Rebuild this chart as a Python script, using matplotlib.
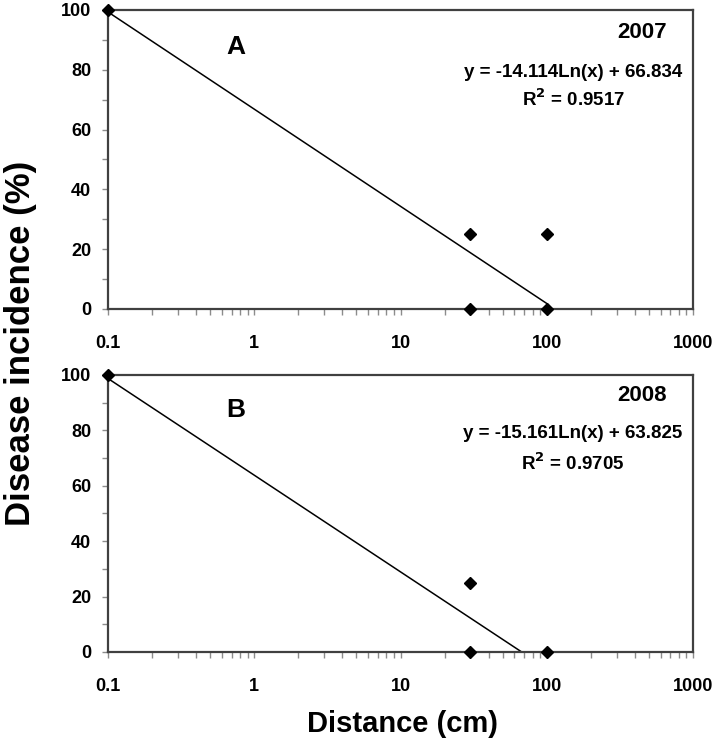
import numpy as np
import matplotlib
matplotlib.use('Agg')
import matplotlib.pyplot as plt
from matplotlib.ticker import LogLocator, FixedLocator, NullFormatter

plt.rcParams['font.family'] = ['Liberation Sans', 'DejaVu Sans']
plt.rcParams['font.weight'] = 'bold'

# %% data
dist_a = [0.1, 30, 30, 100, 100]
inc_a = [100, 25, 0, 25, 0]
dist_b = [0.1, 30, 30, 100]
inc_b = [100, 25, 0, 0]

# log trendline coefficients (y = slope*ln(x) + intercept)
slope_a, icpt_a, r2_a = -14.114, 66.834, 0.9517
slope_b, icpt_b, r2_b = -15.161, 63.825, 0.9705

years = ['2007', '2008']
panels = ['A', 'B']

# %% figure
fig = plt.figure(figsize=(7.17, 7.44), dpi=100)
ax_a = fig.add_axes([0.1506, 0.5847, 0.816, 0.4019])
ax_b = fig.add_axes([0.1506, 0.1237, 0.816, 0.3723])

frame = '#404040'
tick_col = '#8c8c8c'

for ax, xs, ys, slope, icpt, r2, year, letter in [
        (ax_a, dist_a, inc_a, slope_a, icpt_a, r2_a, years[0], panels[0]),
        (ax_b, dist_b, inc_b, slope_b, icpt_b, r2_b, years[1], panels[1])]:
    # excel style trendline over the data range
    xt = np.geomspace(min(xs), max(xs), 200)
    ax.plot(xt, slope * np.log(xt) + icpt, color='black', lw=1.1)
    ax.plot(xs, ys, 'D', color='black', ms=6, clip_on=False, zorder=5)

    ax.set_xscale('log')
    ax.set_xlim(0.1, 1000)
    ax.set_ylim(0, 100)
    ax.set_yticks([0, 20, 40, 60, 80, 100])
    ax.yaxis.set_minor_locator(FixedLocator([10, 30, 50, 70, 90]))
    ax.xaxis.set_major_locator(FixedLocator([0.1, 1, 10, 100, 1000]))
    ax.xaxis.set_minor_locator(LogLocator(base=10, subs=np.arange(2, 10)))
    ax.xaxis.set_minor_formatter(NullFormatter())
    ax.set_xticklabels(['0.1', '1', '10', '100', '1000'])

    for s in ax.spines.values():
        s.set_color(frame)
        s.set_linewidth(1.6)
    ax.tick_params(axis='both', which='both', direction='out', color=tick_col,
                   length=4, width=1, labelsize=13)
    ax.tick_params(axis='x', which='major', pad=15)
    ax.tick_params(axis='y', which='major', pad=8)

    ax.text(0.218, 0.875, letter, transform=ax.transAxes, fontsize=19,
            fontweight='bold', ha='center', va='center')
    ax.text(0.955, 0.925, year, transform=ax.transAxes, fontsize=16,
            fontweight='bold', ha='right', va='center')
    ax.text(0.795, 0.79, f'y = {slope:.3f}Ln(x) + {icpt:.3f}',
            transform=ax.transAxes, fontsize=13.5, fontweight='bold',
            ha='center', va='center')
    ax.text(0.795, 0.70 if ax is ax_a else 0.68, f'R$^2$ = {r2:.4f}',
            transform=ax.transAxes, fontsize=13.5, fontweight='bold',
            ha='center', va='center')

fig.text(0.028, 0.539, 'Disease incidence (%)', rotation=90, fontsize=25,
         fontweight='bold', ha='center', va='center')
fig.text(0.562, 0.027, 'Distance (cm)', fontsize=21, fontweight='bold',
         ha='center', va='center')

fig.savefig('out.png', dpi=100)
